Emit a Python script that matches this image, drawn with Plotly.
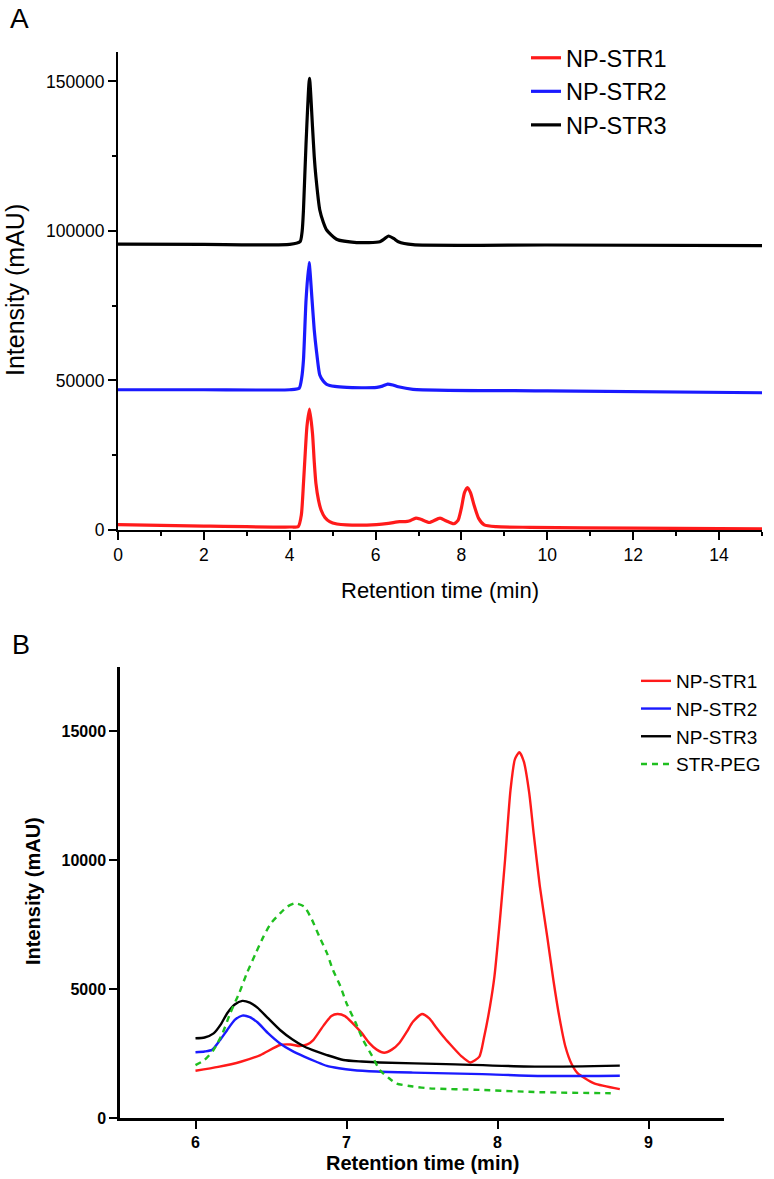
import plotly.graph_objects as go

# ---------------- Panel A data ----------------
a_x_str1 = [0, 2, 4.0, 4.20, 4.27, 4.32, 4.36, 4.40, 4.46, 4.53, 4.57, 4.61, 4.67, 4.73, 4.82,
            4.93, 5.10, 5.32, 6.02, 6.30, 6.56, 6.69, 6.78, 6.94, 7.05, 7.25, 7.50, 7.65, 7.82,
            7.92, 8.00, 8.07, 8.14, 8.21, 8.30, 8.40, 8.53, 8.81, 9.6, 12, 15]
a_y_str1 = [1800, 1300, 1000, 1200, 5000, 15600, 25500, 34500, 40400, 32300, 23000, 15600, 10000,
            6700, 4200, 2800, 2000, 1700, 1800, 2200, 2800, 2800, 3000, 4000, 3600, 2500, 4000,
            3000, 2100, 3200, 7500, 12500, 14200, 12500, 8000, 3900, 1700, 1100, 900, 600, 400]

a_x_str2 = [0, 2, 4.0, 4.22, 4.28, 4.32, 4.38, 4.45, 4.52, 4.57, 4.62, 4.70, 4.78, 4.86, 5.05,
            5.33, 6.03, 6.16, 6.28, 6.40, 6.53, 6.87, 10, 15]
a_y_str2 = [46900, 46900, 46900, 47400, 51000, 56850, 76900, 89400, 76900, 67000, 60200, 51800,
            49800, 48700, 48000, 47700, 47700, 48100, 48800, 48500, 47900, 47050, 46500, 45900]

a_x_str3 = [0, 2, 4.0, 4.24, 4.29, 4.32, 4.38, 4.46, 4.53, 4.57, 4.61, 4.70, 4.78, 4.86, 5.09,
            5.56, 6.10, 6.20, 6.30, 6.42, 6.53, 6.87, 10, 15]
a_y_str3 = [95600, 95500, 95500, 96400, 100000, 107000, 129300, 151000, 134900, 125000, 118100,
            107000, 103000, 100300, 97200, 96100, 96400, 97300, 98300, 97500, 96400, 95400,
            95300, 95100]

a_xticks = [0, 2, 4, 6, 8, 10, 12, 14]
a_xminor = [1, 3, 5, 7, 9, 11, 13, 15]
a_yticks = [0, 50000, 100000, 150000]
a_yminor = [25000, 75000, 125000]

# ---------------- Panel B data ----------------
b_x_str1 = [6.0, 6.15, 6.30, 6.43, 6.56, 6.63, 6.69, 6.74, 6.78, 6.85, 6.90, 6.94, 6.99, 7.04,
            7.10, 7.15, 7.20, 7.25, 7.30, 7.35, 7.40, 7.44, 7.50, 7.55, 7.59, 7.65, 7.70, 7.76,
            7.82, 7.88, 7.91, 7.95, 7.98, 8.02, 8.05, 8.086, 8.115, 8.145, 8.175, 8.21, 8.24,
            8.28, 8.33, 8.37, 8.41, 8.45, 8.49, 8.53, 8.64, 8.81]
b_y_str1 = [1830, 1980, 2180, 2440, 2830, 2850, 2790, 2850, 3020, 3600, 3950, 4030, 3950, 3680,
            3300, 2910, 2650, 2530, 2650, 2910, 3350, 3730, 4030, 3850, 3540, 3100, 2770, 2400,
            2150, 2380, 3100, 4320, 5500, 7940, 10000, 12710, 13900, 14180, 13800, 12600, 11000,
            9000, 7000, 5350, 3900, 2760, 2100, 1740, 1340, 1120]

b_x_str2 = [6.0, 6.06, 6.11, 6.16, 6.21, 6.26, 6.31, 6.36, 6.41, 6.48, 6.56, 6.64, 6.72, 6.80,
            6.87, 6.95, 7.04, 7.20, 7.44, 7.90, 8.28, 8.81]
b_y_str2 = [2550, 2580, 2640, 3000, 3410, 3800, 3970, 3910, 3710, 3290, 2890, 2600, 2380, 2180,
            2020, 1930, 1860, 1800, 1760, 1700, 1630, 1640]

b_x_str3 = [6.0, 6.06, 6.12, 6.17, 6.21, 6.26, 6.31, 6.36, 6.41, 6.48, 6.56, 6.64, 6.72, 6.80,
            6.87, 6.98, 7.10, 7.22, 7.66, 8.28, 8.81]
b_y_str3 = [3090, 3120, 3280, 3650, 4060, 4400, 4540, 4470, 4280, 3870, 3410, 3050, 2770, 2580,
            2440, 2250, 2190, 2150, 2090, 1990, 2030]

b_x_peg = [6.0, 6.06, 6.12, 6.18, 6.23, 6.29, 6.34, 6.40, 6.45, 6.50, 6.56, 6.61, 6.66, 6.72,
           6.77, 6.82, 6.87, 6.91, 6.96, 7.00, 7.06, 7.11, 7.17, 7.22, 7.28, 7.33, 7.44, 7.55,
           7.88, 8.28, 8.75]
b_y_peg = [2050, 2250, 2640, 3300, 4060, 4850, 5610, 6400, 7030, 7550, 7930, 8200, 8320, 8190,
           7700, 7030, 6400, 5740, 5100, 4450, 3700, 3020, 2400, 1860, 1550, 1340, 1220, 1150,
           1090, 1000, 960]

b_xticks = [6, 7, 8, 9]
b_yticks = [0, 5000, 10000, 15000]

RED = "#ff1a1a"
BLUE = "#1a1aff"
BLACK = "#000000"
GREEN = "#1fbf1f"
FONT = "Liberation Sans, Arial, sans-serif"

W, H = 774, 1179

def px_x(p):
    return p / W

def px_y(p):
    return 1 - p / H

fig = go.Figure()

for name, xs, ys, col in [("NP-STR1", a_x_str1, a_y_str1, RED),
                          ("NP-STR2", a_x_str2, a_y_str2, BLUE),
                          ("NP-STR3", a_x_str3, a_y_str3, BLACK)]:
    fig.add_trace(go.Scatter(x=xs, y=ys, mode="lines", name=name,
                             line=dict(color=col, width=3.2, shape="spline", smoothing=0.6),
                             xaxis="x", yaxis="y", legend="legend"))

for name, xs, ys, col, dash in [("NP-STR1", b_x_str1, b_y_str1, RED, "solid"),
                               ("NP-STR2", b_x_str2, b_y_str2, BLUE, "solid"),
                               ("NP-STR3", b_x_str3, b_y_str3, BLACK, "solid"),
                               ("STR-PEG", b_x_peg, b_y_peg, GREEN, "6px,5px")]:
    fig.add_trace(go.Scatter(x=xs, y=ys, mode="lines", name=name,
                             line=dict(color=col, width=2.4, shape="spline", smoothing=0.6, dash=dash),
                             xaxis="x2", yaxis="y2", legend="legend2"))

axis_common = dict(showgrid=False, zeroline=False, showline=True, linecolor="black",
                   ticks="outside", tickcolor="black", ticklen=8, tickwidth=1.5,
                   automargin=False)

fig.update_layout(
    template="none",
    width=W, height=H,
    margin=dict(l=0, r=0, t=0, b=0, autoexpand=False),
    paper_bgcolor="white", plot_bgcolor="white",
    font=dict(family=FONT, color="black"),
    xaxis=dict(domain=[px_x(118), px_x(762)], range=[0, 15], anchor="y",
               tickvals=a_xticks, linewidth=2, tickfont=dict(size=17.5),
               minor=dict(tickvals=a_xminor, ticks="outside", ticklen=4, tickcolor="black", tickwidth=1.5),
               **axis_common),
    yaxis=dict(domain=[px_y(530), px_y(51.5)], range=[0, 160000], anchor="x",
               tickvals=a_yticks, tickformat="d", linewidth=2, tickfont=dict(size=17.5),
               minor=dict(tickvals=a_yminor, ticks="outside", ticklen=4, tickcolor="black", tickwidth=1.5),
               **axis_common),
    xaxis2=dict(domain=[px_x(120), px_x(724)], range=[5.5, 9.5], anchor="y2",
                tickvals=b_xticks, linewidth=2.5, tickfont=dict(size=16, weight="bold"),
                **axis_common),
    yaxis2=dict(domain=[px_y(1118), px_y(666.5)], range=[0, 17500], anchor="x2",
                tickvals=b_yticks, tickformat="d", linewidth=2.5, tickfont=dict(size=16, weight="bold"),
                **axis_common),
    legend=dict(x=px_x(526), y=px_y(36), xanchor="left", yanchor="top",
                font=dict(size=23.5), bgcolor="rgba(0,0,0,0)",
                itemwidth=30, borderwidth=0),
    legend2=dict(x=px_x(636), y=px_y(662), xanchor="left", yanchor="top",
                 font=dict(size=19), bgcolor="rgba(0,0,0,0)",
                 itemwidth=30, borderwidth=0),
    showlegend=True,
)

annotations = [
    dict(text="A", x=px_x(19), y=px_y(18), font=dict(size=28)),
    dict(text="B", x=px_x(21), y=px_y(645), font=dict(size=27)),
    dict(text="Retention time (min)", x=px_x(440), y=px_y(590), font=dict(size=22)),
    dict(text="Intensity (mAU)", x=px_x(15), y=px_y(290), font=dict(size=25), textangle=-90),
    dict(text="<b>Retention time (min)</b>", x=px_x(422), y=px_y(1163), font=dict(size=20)),
    dict(text="<b>Intensity (mAU)</b>", x=px_x(33), y=px_y(891), font=dict(size=20), textangle=-90),
]
for a in annotations:
    a.update(xref="paper", yref="paper", showarrow=False, xanchor="center", yanchor="middle")
fig.update_layout(annotations=annotations)

fig.write_html("out.html", config={"displayModeBar": False},
               post_script="document.body.style.margin='0';document.body.style.overflow='hidden';")
